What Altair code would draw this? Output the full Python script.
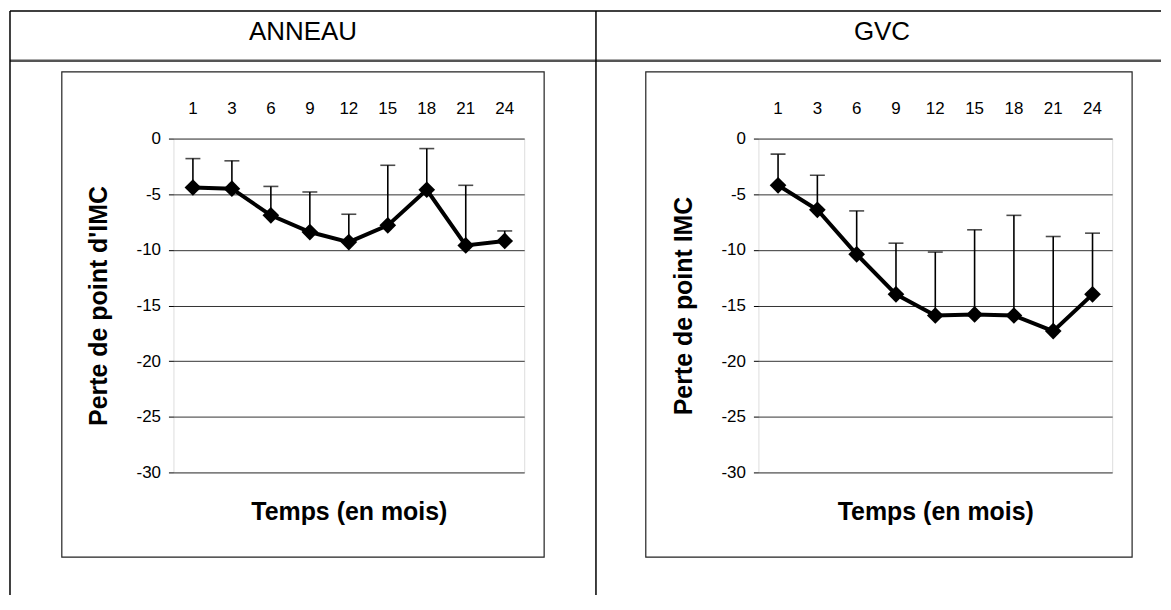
import altair as alt
import pandas as pd

# ---- data ----
months = ["1", "3", "6", "9", "12", "15", "18", "21", "24"]
panels = ["ANNEAU", "GVC"]
y_titles = ["Perte de point d'IMC", "Perte de point IMC"]
x_title = "Temps (en mois)"
y_ticks = [0, -5, -10, -15, -20, -25, -30]

anneau_mean = [-4.4, -4.5, -6.9, -8.4, -9.3, -7.8, -4.6, -9.6, -9.2]
anneau_upper = [-1.8, -2.0, -4.3, -4.8, -6.8, -2.4, -0.9, -4.2, -8.3]

gvc_mean = [-4.2, -6.4, -10.4, -14.0, -15.9, -15.8, -15.9, -17.3, -14.0]
gvc_upper = [-1.4, -3.3, -6.5, -9.4, -10.2, -8.2, -6.9, -8.8, -8.5]

FONT = "Liberation Sans"
H = 335
one = pd.DataFrame({"k": [0]})


def hline(x1, x2, y, color="black", sw=1.5):
    return alt.Chart(one).mark_rule(color=color, strokeWidth=sw).encode(
        x=alt.value(x1), x2=alt.value(x2), y=alt.value(y))


def vline(x, y1, y2, color="black", sw=1.5):
    return alt.Chart(one).mark_rule(color=color, strokeWidth=sw).encode(
        x=alt.value(x), y=alt.value(y1), y2=alt.value(y2))


def box(x1, x2, y1, y2):
    return alt.Chart(one).mark_rect(fillOpacity=0, stroke="#222", strokeWidth=1.2).encode(
        x=alt.value(x1), x2=alt.value(x2), y=alt.value(y1), y2=alt.value(y2))


def header(text, x, y):
    return alt.Chart(pd.DataFrame({"t": [text]})).mark_text(
        font=FONT, fontSize=26, color="black", align="center", baseline="middle"
    ).encode(x=alt.value(x), y=alt.value(y), text="t:N")


def panel(mean, upper, ytitle, width, extra):
    df = pd.DataFrame({"mois": months, "moyenne": mean, "haut": upper})
    x = alt.X("mois:O", sort=months,
              scale=alt.Scale(paddingInner=0, paddingOuter=0),
              axis=alt.Axis(orient="top", title=x_title, labelAngle=0,
                            domain=False, ticks=False, grid=False,
                            labelFont=FONT, labelFontSize=17, labelColor="black",
                            labelPadding=21,
                            titleFont=FONT, titleFontSize=25, titleFontWeight="bold",
                            titleColor="black", titleY=H + 39, titleX=width / 2,
                            titleBaseline="middle", titleAlign="center"))
    yax = alt.Axis(values=y_ticks, title=ytitle, domain=False,
                   labelExpr="datum.value == 0 ? '0' : '-' + abs(datum.value)",
                   tickSize=5, tickColor="black", tickWidth=1,
                   labelFont=FONT, labelFontSize=17, labelColor="black",
                   labelPadding=8,
                   grid=True, gridColor="#333", gridWidth=1,
                   titleFont=FONT, titleFontSize=25, titleFontWeight="bold",
                   titleColor="black", titleAngle=270, titleX=-62, titleY=H / 2,
                   titleBaseline="bottom", titleAlign="center")
    ysc = alt.Scale(domain=[-30, 0], nice=False, zero=False)
    base = alt.Chart(df)
    rule = base.mark_rule(color="black", strokeWidth=1.6).encode(
        x=x, y=alt.Y("haut:Q", scale=ysc, axis=yax, title=ytitle), y2="moyenne:Q")
    cap = base.mark_tick(color="black", size=15, thickness=1.6).encode(
        x=x, y=alt.Y("haut:Q", scale=ysc, axis=yax, title=ytitle))
    line = base.mark_line(color="black", strokeWidth=4).encode(
        x=x, y=alt.Y("moyenne:Q", scale=ysc, axis=yax, title=ytitle))
    pts = base.mark_point(shape="diamond", filled=True, size=280, color="black",
                          opacity=1).encode(
        x=x, y=alt.Y("moyenne:Q", scale=ysc, axis=yax, title=ytitle))
    return alt.layer(*extra, rule, line, pts, cap).properties(width=width, height=H)


# decorative table frame (pixel offsets relative to each plot's origin)
left_extra = [
    hline(-164, 991, -128, "black", 1.5),
    hline(-164, 991, -78, "#555", 2.5),
    vline(-164, -128, 458, "black", 1.5),
    vline(424, -128, 458, "black", 1.5),
    box(-112, 372, -67, 420),
    header(panels[0], 130, -107),
]
right_extra = [
    box(-113, 375, -67, 420),
    header(panels[1], 124, -107),
]

left = panel(anneau_mean, anneau_upper, y_titles[0], 352, left_extra)
right = panel(gvc_mean, gvc_upper, y_titles[1], 355, right_extra)

chart = alt.hconcat(left, right, spacing=235, bounds="flush").properties(
    padding={"left": 0, "top": 0, "right": 0, "bottom": 0}
).configure_view(stroke="black", strokeWidth=1.5).configure(background="white")

chart.save("out.html", embed_options={"renderer": "svg", "actions": False})
